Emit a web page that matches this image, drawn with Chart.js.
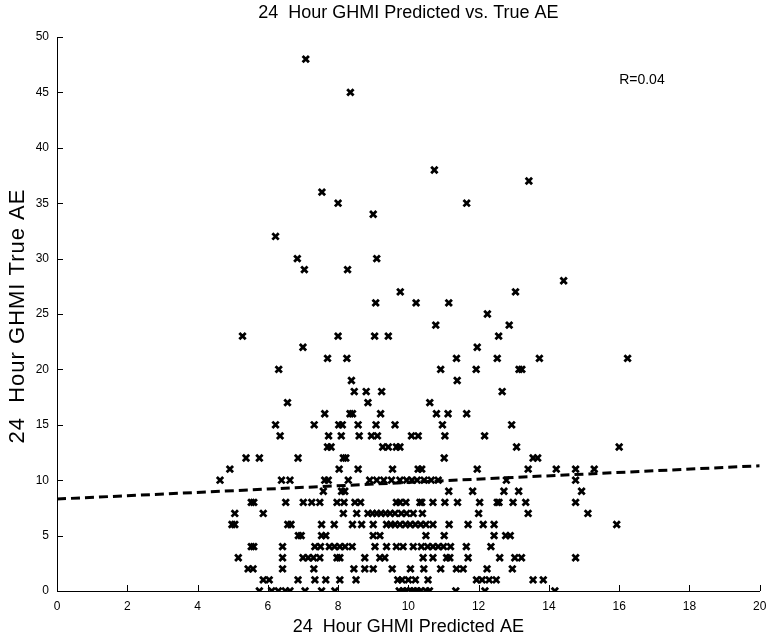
<!DOCTYPE html>
<html>
<head>
<meta charset="utf-8">
<script src="https://cdn.jsdelivr.net/npm/chart.js@4.4.0/dist/chart.umd.min.js"></script>
<style>
  html, body { margin: 0; padding: 0; background: #fff; }
</style>
</head>
<body>
<canvas id="myChart" width="767" height="639"></canvas>
<script>
// true AE levels (integer) and the predicted AE values observed at each level
const trueLevels = [0, 1, 2, 3, 4, 5, 6, 7, 8, 9, 10, 11, 12, 13, 14, 15, 16, 17, 18, 19, 20, 21, 22, 23, 24, 25, 26, 27, 28, 29, 30, 32, 34, 35, 36, 37, 38, 45, 48];
const predictedAtLevel = [
    [5.76, 6.11, 6.3, 6.5, 6.63, 7.06, 7.53, 7.91, 9.74, 9.85, 9.95, 10.05, 10.15, 10.25, 10.35, 10.5, 10.6, 11.35, 12.18, 14.17],
    [5.87, 6.04, 6.86, 7.34, 7.65, 8.05, 8.51, 9.7, 9.82, 10.0, 10.2, 10.56, 11.94, 12.1, 12.3, 12.5, 13.55, 13.84],
    [5.44, 5.58, 6.42, 7.31, 8.45, 8.76, 9.0, 9.54, 10.06, 10.44, 10.92, 11.37, 11.56, 12.24, 12.96],
    [5.16, 6.42, 7.0, 7.15, 7.3, 7.48, 7.97, 8.05, 8.76, 9.19, 9.33, 10.42, 10.7, 11.09, 11.18, 11.7, 12.6, 13.03, 13.22, 14.76],
    [5.53, 5.6, 6.42, 7.34, 7.5, 7.75, 7.9, 8.05, 8.2, 8.4, 9.05, 9.38, 9.66, 9.85, 10.14, 10.37, 10.55, 10.7, 10.85, 11.0, 11.2, 11.65, 12.35],
    [6.87, 6.95, 7.53, 7.65, 9.0, 9.19, 10.5, 11.02, 12.44, 12.77, 12.9],
    [4.98, 5.06, 6.57, 6.66, 7.53, 7.89, 8.41, 8.67, 9.0, 9.38, 9.5, 9.62, 9.76, 9.92, 10.05, 10.2, 10.35, 10.5, 10.7, 11.16, 11.7, 12.13, 12.44, 15.93],
    [5.06, 5.87, 8.15, 8.53, 8.85, 8.98, 9.1, 9.22, 9.35, 9.48, 9.62, 9.8, 9.95, 10.14, 10.4, 12.0, 13.41, 15.11],
    [5.53, 5.6, 6.51, 7.01, 7.25, 7.48, 7.97, 8.17, 8.48, 8.64, 9.66, 9.76, 9.93, 10.33, 10.38, 10.7, 11.04, 11.4, 12.03, 12.53, 12.58, 12.98, 13.34, 14.76],
    [7.58, 8.1, 8.19, 11.15, 11.83, 12.72, 13.14, 14.93],
    [4.64, 6.39, 6.63, 7.62, 7.72, 8.29, 8.9, 9.1, 9.3, 9.52, 9.76, 9.95, 10.1, 10.25, 10.45, 10.65, 10.85, 12.79, 14.76],
    [4.92, 8.03, 8.57, 9.55, 10.28, 10.38, 11.96, 13.41, 14.21, 14.76, 15.29],
    [5.38, 5.76, 6.86, 8.15, 8.22, 11.02, 13.55, 13.68],
    [7.70, 7.80, 9.27, 9.43, 9.66, 9.76, 13.08, 16.0],
    [6.35, 7.73, 8.09, 8.6, 8.95, 9.12, 10.09, 10.28, 11.04, 12.17],
    [6.22, 7.32, 8.02, 8.12, 8.57, 9.08, 9.62, 10.97, 12.94],
    [7.62, 8.34, 8.41, 9.21, 10.8, 11.13, 11.66],
    [6.56, 8.85, 10.61],
    [8.46, 8.80, 9.24, 12.67],
    [8.38, 11.39],
    [6.31, 10.92, 11.93, 13.15, 13.23],
    [7.70, 8.25, 11.37, 12.53, 13.73, 16.24],
    [7.0, 11.96],
    [5.28, 8.0, 9.04, 9.43, 12.57],
    [10.78, 12.87],
    [12.25],
    [9.07, 10.22, 11.15],
    [9.77, 13.05],
    [14.42],
    [7.04, 8.27],
    [6.84, 9.1],
    [6.22],
    [9.0],
    [8.0, 11.66],
    [7.54],
    [13.43],
    [10.74],
    [8.35],
    [7.08]
];

// linear fit (dashed line) end points
const fitX = [0, 20];
const fitY = [8.3, 11.3];

const rLabel = 'R=0.04';
const rPos = [16.0, 46.1];

const xTicks = [0, 2, 4, 6, 8, 10, 12, 14, 16, 18, 20];
const yTicks = [0, 5, 10, 15, 20, 25, 30, 35, 40, 45, 50];

const points = [];
trueLevels.forEach(function (lvl, i) {
    predictedAtLevel[i].forEach(function (p) {
        points.push({ x: p, y: lvl });
    });
});

const FONT = "'Liberation Sans', Arial, Helvetica, sans-serif";

// MATLAB style: ticks inside, title and labels as plain text
const matlabLook = {
    id: 'matlabLook',
    afterDraw(chart) {
        const ctx = chart.ctx;
        const a = chart.chartArea;
        const xs = chart.scales.x;
        const ys = chart.scales.y;
        ctx.save();
        ctx.strokeStyle = '#000';
        ctx.lineWidth = 1;
        ctx.beginPath();
        xTicks.forEach(function (t) {
            const px = Math.round(xs.getPixelForValue(t)) + 0.5;
            ctx.moveTo(px, a.bottom);
            ctx.lineTo(px, a.bottom - 6);
        });
        yTicks.forEach(function (t) {
            const py = Math.round(ys.getPixelForValue(t)) + 0.5;
            ctx.moveTo(a.left, py);
            ctx.lineTo(a.left + 6, py);
        });
        ctx.stroke();

        ctx.fillStyle = '#000';
        ctx.textAlign = 'center';
        ctx.textBaseline = 'middle';
        ctx.font = '18px ' + FONT;
        ctx.fillText('24  Hour GHMI Predicted vs. True AE', (a.left + a.right) / 2, 13);
        ctx.fillText('24  Hour GHMI Predicted AE', (a.left + a.right) / 2, 627);

        ctx.save();
        ctx.translate(18, 316);
        ctx.rotate(-Math.PI / 2);
        ctx.font = '22px ' + FONT;
        ctx.letterSpacing = '1px';
        ctx.fillText('24  Hour GHMI True AE', 0, 0);
        ctx.restore();

        ctx.textAlign = 'left';
        ctx.font = '14px ' + FONT;
        ctx.fillText(rLabel, xs.getPixelForValue(rPos[0]), ys.getPixelForValue(rPos[1]));
        ctx.restore();
    }
};

const data = {
    datasets: [
        {
            label: 'AE',
            data: points,
            showLine: false,
            pointStyle: 'crossRot',
            pointRadius: 4.5,
            pointBorderWidth: 2.8,
            borderColor: '#000',
            backgroundColor: '#000'
        },
        {
            label: 'fit',
            data: fitX.map(function (v, i) { return { x: v, y: fitY[i] }; }),
            showLine: true,
            pointRadius: 0,
            borderColor: '#000',
            borderWidth: 3,
            borderDash: [9, 5]
        }
    ]
};

const config = {
    type: 'scatter',
    data: data,
    options: {
        responsive: false,
        animation: false,
        devicePixelRatio: 1,
        layout: { padding: { top: 37, right: 7, left: 0, bottom: 0 } },
        plugins: {
            legend: { display: false },
            tooltip: { enabled: false }
        },
        scales: {
            x: {
                type: 'linear',
                min: 0,
                max: 20,
                afterFit: function (s) {
                    s.height = 48;
                    s.paddingLeft = 0;
                    s.paddingRight = 0;
                },
                afterBuildTicks: function (s) { s.ticks = xTicks.map(function (v) { return { value: v }; }); },
                grid: { display: false, drawTicks: false, tickLength: 0 },
                border: { display: true, color: '#000', width: 1 },
                ticks: { color: '#000', padding: 8, font: { family: FONT, size: 12 }, maxRotation: 0 }
            },
            y: {
                type: 'linear',
                min: 0,
                max: 50,
                afterFit: function (s) {
                    s.width = 57;
                    s.paddingTop = 0;
                    s.paddingBottom = 0;
                },
                afterBuildTicks: function (s) { s.ticks = yTicks.map(function (v) { return { value: v }; }); },
                grid: { display: false, drawTicks: false, tickLength: 0 },
                border: { display: true, color: '#000', width: 1 },
                ticks: { color: '#000', padding: 8, font: { family: FONT, size: 12 } }
            }
        }
    },
    plugins: [matlabLook]
};

var ctx = document.getElementById('myChart').getContext('2d');
new Chart(ctx, config);
</script>
</body>
</html>
